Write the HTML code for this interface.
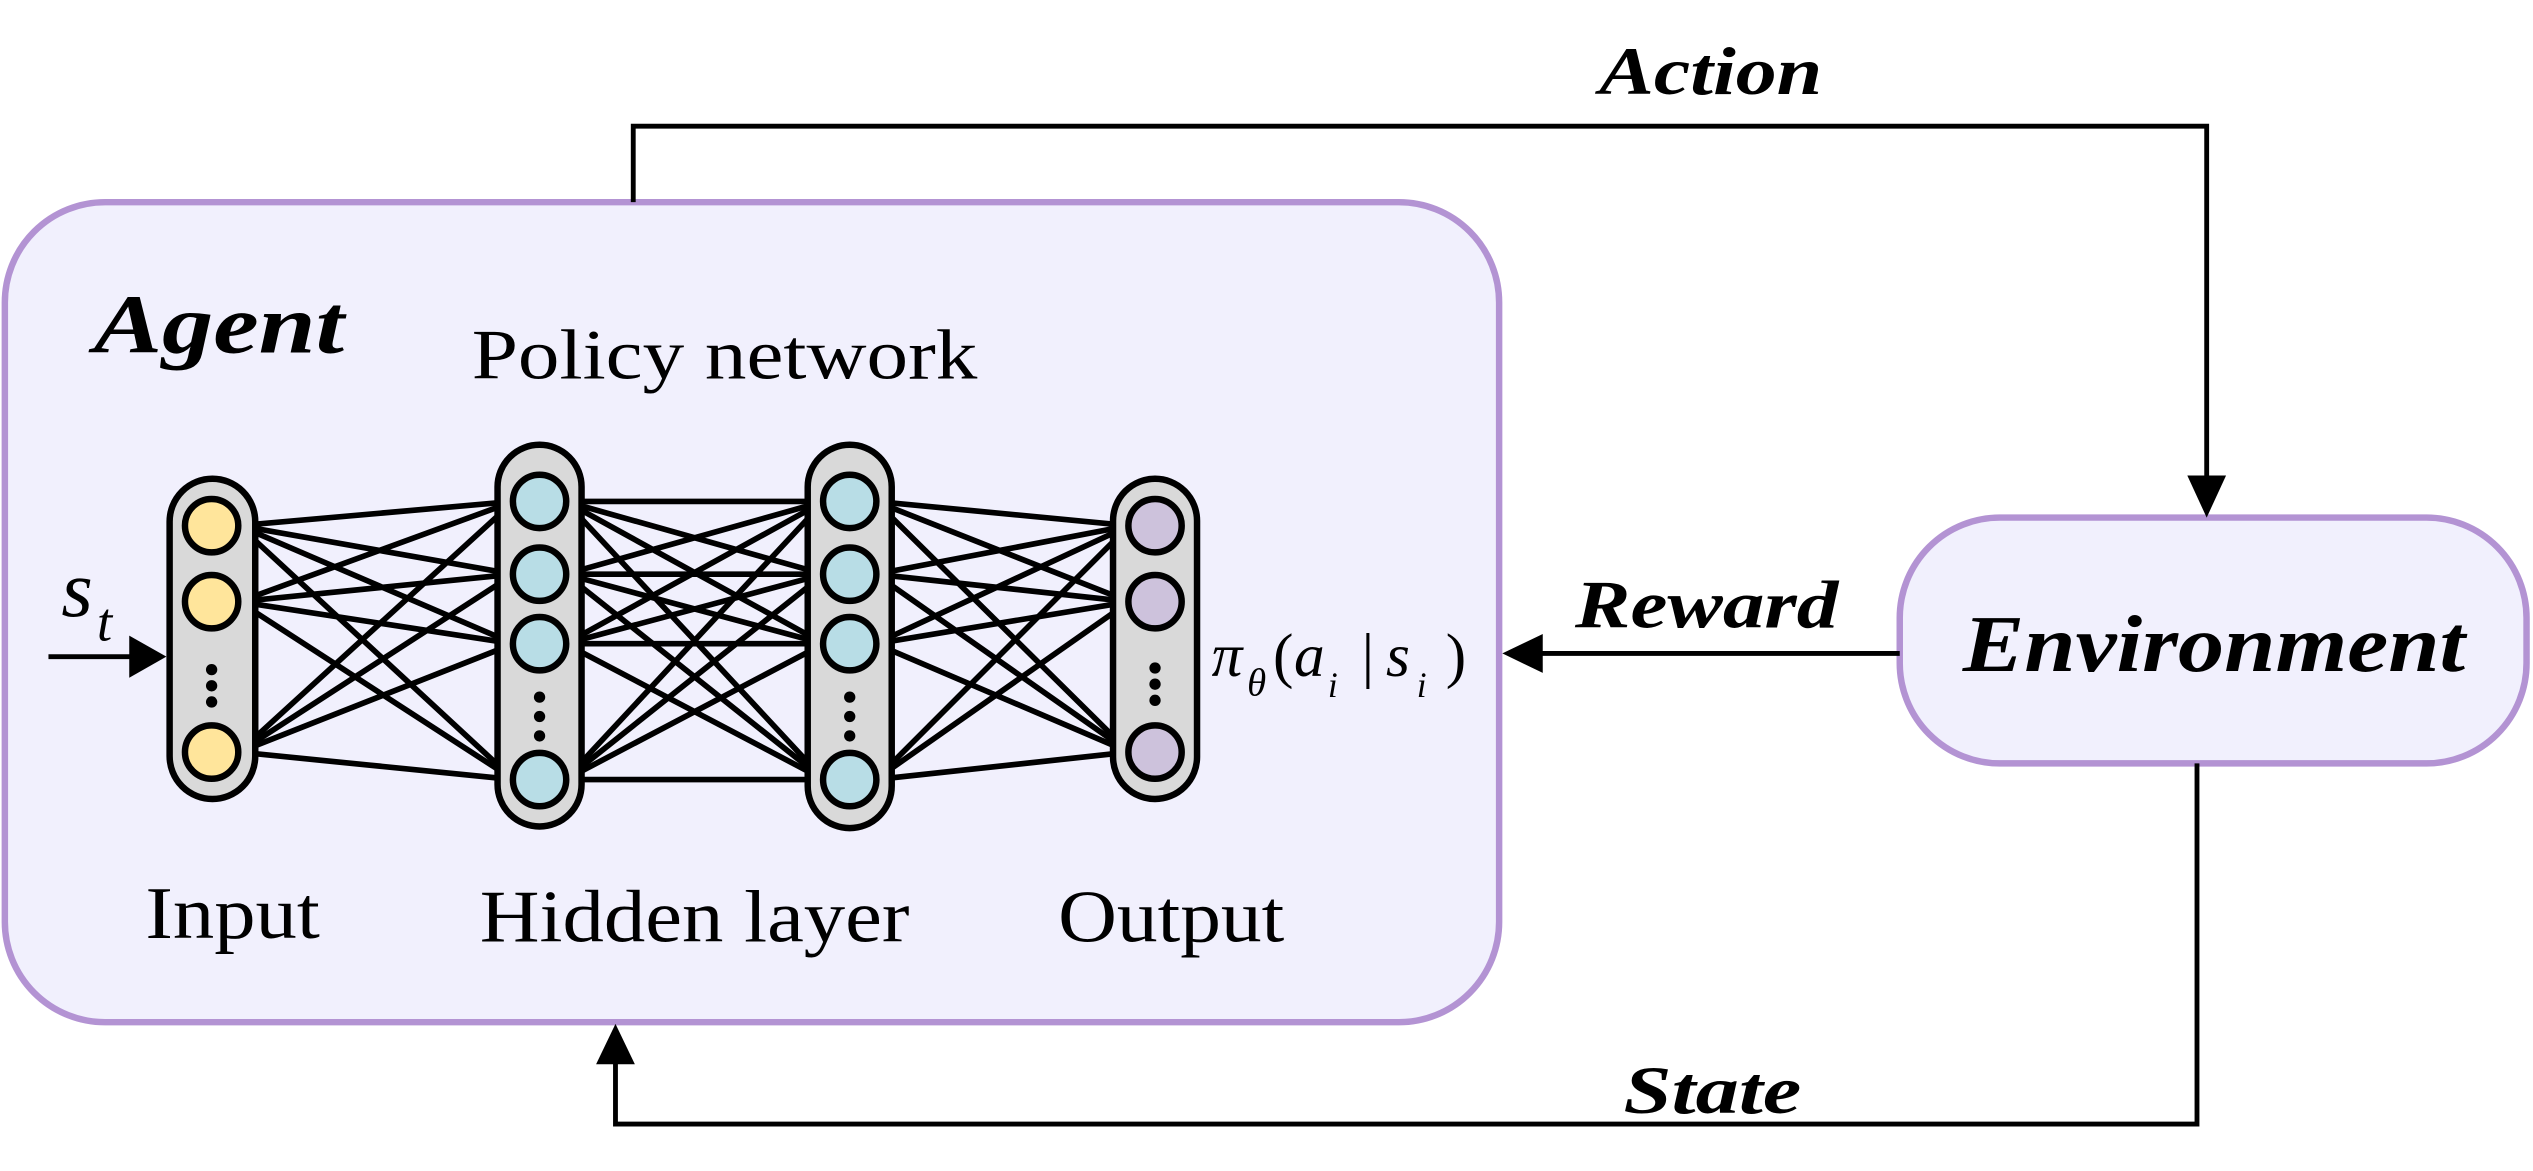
<!DOCTYPE html>
<html><head><meta charset="utf-8"><style>
html,body{margin:0;padding:0;background:#fff}
svg{display:block}
text{font-family:"Liberation Serif",serif}
</style></head><body>
<svg width="2533" height="1171" viewBox="0 0 1568 724" preserveAspectRatio="none" xmlns="http://www.w3.org/2000/svg">
<rect x="3" y="125" width="925" height="507" rx="62" fill="#f1f0fd" stroke="#b393d3" stroke-width="4"/>
<rect x="1176" y="320" width="388" height="152" rx="62" fill="#f1f0fd" stroke="#b393d3" stroke-width="4"/>
<g stroke="#000" stroke-width="3" fill="none">
<polyline points="392,125 392,78 1366,78 1366,296"/>
<line x1="1176" y1="404" x2="952" y2="404"/>
<polyline points="1360,472 1360,695 381,695 381,656"/>
<line x1="30" y1="406" x2="84" y2="406"/>
</g>
<g fill="#000">
<polygon points="1354,294 1378,294 1366,320"/>
<polygon points="955,392 955,416 930,404"/>
<polygon points="369,658 393,658 381,633"/>
<polygon points="80,393 80,419 103,406"/>
</g>
<g stroke="#000" stroke-width="3.5">
<line x1="148" y1="325" x2="318" y2="310"/><line x1="148" y1="325" x2="318" y2="355"/><line x1="148" y1="325" x2="318" y2="398"/><line x1="148" y1="325" x2="318" y2="482"/>
<line x1="148" y1="372" x2="318" y2="310"/><line x1="148" y1="372" x2="318" y2="355"/><line x1="148" y1="372" x2="318" y2="398"/><line x1="148" y1="372" x2="318" y2="482"/>
<line x1="148" y1="465" x2="318" y2="310"/><line x1="148" y1="465" x2="318" y2="355"/><line x1="148" y1="465" x2="318" y2="398"/><line x1="148" y1="465" x2="318" y2="482"/>
<line x1="350" y1="310" x2="510" y2="310"/><line x1="350" y1="310" x2="510" y2="355"/><line x1="350" y1="310" x2="510" y2="398"/><line x1="350" y1="310" x2="510" y2="482"/>
<line x1="350" y1="355" x2="510" y2="310"/><line x1="350" y1="355" x2="510" y2="355"/><line x1="350" y1="355" x2="510" y2="398"/><line x1="350" y1="355" x2="510" y2="482"/>
<line x1="350" y1="398" x2="510" y2="310"/><line x1="350" y1="398" x2="510" y2="355"/><line x1="350" y1="398" x2="510" y2="398"/><line x1="350" y1="398" x2="510" y2="482"/>
<line x1="350" y1="482" x2="510" y2="310"/><line x1="350" y1="482" x2="510" y2="355"/><line x1="350" y1="482" x2="510" y2="398"/><line x1="350" y1="482" x2="510" y2="482"/>
<line x1="542" y1="310" x2="699" y2="325"/><line x1="542" y1="310" x2="699" y2="372"/><line x1="542" y1="310" x2="699" y2="465"/>
<line x1="542" y1="355" x2="699" y2="325"/><line x1="542" y1="355" x2="699" y2="372"/><line x1="542" y1="355" x2="699" y2="465"/>
<line x1="542" y1="398" x2="699" y2="325"/><line x1="542" y1="398" x2="699" y2="372"/><line x1="542" y1="398" x2="699" y2="465"/>
<line x1="542" y1="482" x2="699" y2="325"/><line x1="542" y1="482" x2="699" y2="372"/><line x1="542" y1="482" x2="699" y2="465"/>
</g>
<g stroke="#000" stroke-width="4">
<rect x="105" y="296" width="53" height="198" rx="26.5" fill="#d9d9d9"/>
<rect x="308" y="275" width="52" height="236" rx="26" fill="#d9d9d9"/>
<rect x="500" y="275" width="52" height="237" rx="26" fill="#d9d9d9"/>
<rect x="689" y="296" width="52" height="198" rx="26" fill="#d9d9d9"/>
<g fill="#ffe59b"><circle cx="131" cy="325" r="16.5"/><circle cx="131" cy="372" r="16.5"/><circle cx="131" cy="465" r="16.5"/></g>
<g fill="#b8dde6"><circle cx="334" cy="310" r="16.5"/><circle cx="334" cy="355" r="16.5"/><circle cx="334" cy="398" r="16.5"/><circle cx="334" cy="482" r="16.5"/>
<circle cx="526" cy="310" r="16.5"/><circle cx="526" cy="355" r="16.5"/><circle cx="526" cy="398" r="16.5"/><circle cx="526" cy="482" r="16.5"/></g>
<g fill="#cdc2dc"><circle cx="715" cy="325" r="16.5"/><circle cx="715" cy="372" r="16.5"/><circle cx="715" cy="465" r="16.5"/></g>
</g>
<g fill="#000">
<circle cx="131" cy="414" r="3.5"/><circle cx="131" cy="424" r="3.5"/><circle cx="131" cy="434" r="3.5"/>
<circle cx="334" cy="431" r="3.5"/><circle cx="334" cy="443" r="3.5"/><circle cx="334" cy="455" r="3.5"/>
<circle cx="526" cy="431" r="3.5"/><circle cx="526" cy="443" r="3.5"/><circle cx="526" cy="455" r="3.5"/>
<circle cx="715" cy="413" r="3.5"/><circle cx="715" cy="423" r="3.5"/><circle cx="715" cy="433" r="3.5"/>
</g>
<text x="58" y="218" font-size="52" font-weight="bold" font-style="italic" textLength="155" lengthAdjust="spacingAndGlyphs">Agent</text>
<text x="292" y="234" font-size="44" textLength="313" lengthAdjust="spacingAndGlyphs">Policy network</text>
<text x="90" y="580" font-size="46" textLength="108" lengthAdjust="spacingAndGlyphs">Input</text>
<text x="297" y="582" font-size="46" textLength="266" lengthAdjust="spacingAndGlyphs">Hidden layer</text>
<text x="655" y="582" font-size="46" textLength="140" lengthAdjust="spacingAndGlyphs">Output</text>
<text x="990" y="58" font-size="42" font-weight="bold" font-style="italic" textLength="138" lengthAdjust="spacingAndGlyphs">Action</text>
<text x="975" y="388" font-size="42" font-weight="bold" font-style="italic" textLength="163" lengthAdjust="spacingAndGlyphs">Reward</text>
<text x="1005" y="688" font-size="42" font-weight="bold" font-style="italic" textLength="110" lengthAdjust="spacingAndGlyphs">State</text>
<text x="1215" y="415" font-size="50" font-weight="bold" font-style="italic" textLength="311" lengthAdjust="spacingAndGlyphs">Environment</text>
<text x="38" y="381" font-size="50" font-style="italic">s</text>
<text x="60" y="396" font-size="34" font-style="italic">t</text>
<text x="750" y="418" font-size="38" font-style="italic">π</text>
<text x="772" y="430" font-size="24" font-style="italic">θ</text>
<text x="788" y="418" font-size="38">(</text>
<text x="801" y="418" font-size="38" font-style="italic">a</text>
<text x="822" y="431" font-size="22" font-style="italic">i</text>
<text x="843" y="418" font-size="38">|</text>
<text x="858" y="418" font-size="38" font-style="italic">s</text>
<text x="877" y="431" font-size="22" font-style="italic">i</text>
<text x="895" y="418" font-size="38">)</text>
</svg>
</body></html>
